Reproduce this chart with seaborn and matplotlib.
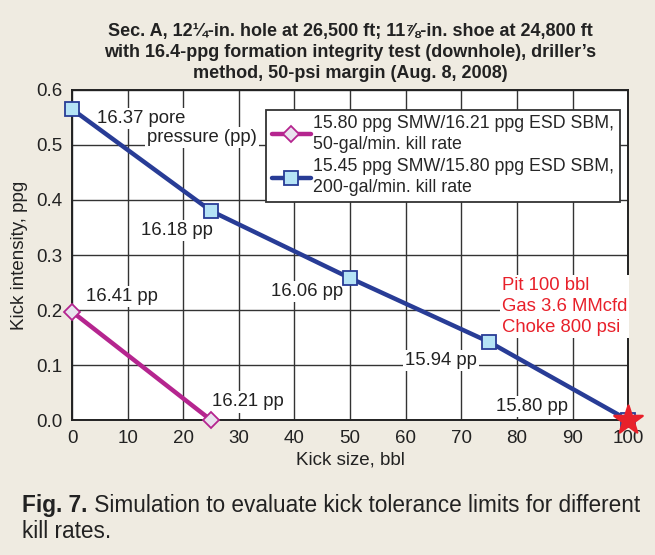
import numpy as np
import pandas as pd
import matplotlib
matplotlib.use("Agg")
import matplotlib.pyplot as plt
import seaborn as sns

# data
kick_size_200 = [0, 25, 50, 75, 100]
kick_int_200 = [0.565, 0.380, 0.258, 0.142, 0.0]
kick_size_50 = [0, 25]
kick_int_50 = [0.197, 0.0]
x_ticks = [0, 10, 20, 30, 40, 50, 60, 70, 80, 90, 100]
y_ticks = [0.0, 0.1, 0.2, 0.3, 0.4, 0.5, 0.6]
label_50 = "15.80 ppg SMW/16.21 ppg ESD SBM,\n50-gal/min. kill rate"
label_200 = "15.45 ppg SMW/15.80 ppg ESD SBM,\n200-gal/min. kill rate"

sns.set_style("white")
plt.rcParams["font.family"] = ["Liberation Sans", "DejaVu Sans"]

BG = "#efebe1"
BLUE = "#283c96"
MAG = "#b5258f"
TXT = "#222222"

fig = plt.figure(figsize=(6.55, 5.55), dpi=100, facecolor=BG)
ax = fig.add_axes([0.110, 0.243, 0.849, 0.595])
ax.set_facecolor("white")

df50 = pd.DataFrame({"x": kick_size_50, "y": kick_int_50})
df200 = pd.DataFrame({"x": kick_size_200, "y": kick_int_200})

sns.lineplot(data=df50, x="x", y="y", ax=ax, color=MAG, linewidth=3.2,
             marker="D", markersize=8, markerfacecolor="#e9e3ee",
             markeredgecolor=MAG, markeredgewidth=1.3, label=label_50,
             zorder=5, clip_on=False)
sns.lineplot(data=df200, x="x", y="y", ax=ax, color=BLUE, linewidth=3.2,
             marker="s", markersize=10, markerfacecolor="#b5e3f6",
             markeredgecolor=BLUE, markeredgewidth=1.3, label=label_200,
             zorder=5, clip_on=False)
# last point of the 200 gal/min line is the red star, not a square
sns.scatterplot(x=[kick_size_200[-1]], y=[kick_int_200[-1]], ax=ax, marker="*",
                s=460, color="#e8202a", edgecolor="#e8202a", zorder=7,
                legend=False, clip_on=False)

ax.set_xlim(0, 100)
ax.set_ylim(0, 0.6)
ax.set_xticks(x_ticks)
ax.set_yticks(y_ticks)
ax.set_yticklabels([f"{v:.1f}" for v in y_ticks])
ax.grid(True, color="#333333", linewidth=1.0)
ax.set_axisbelow(True)
for s in ax.spines.values():
    s.set_color(TXT)
    s.set_linewidth(1.4)
ax.tick_params(labelsize=13.5, colors=TXT, length=0, pad=7)
ax.set_xlabel("Kick size, bbl", fontsize=13.5, color=TXT, labelpad=3)
ax.set_ylabel("Kick intensity, ppg", fontsize=13.5, color=TXT, labelpad=6)

leg = ax.legend(loc="upper right", bbox_to_anchor=(0.985, 0.94), fontsize=12.8,
                frameon=True, fancybox=False, edgecolor="#333333",
                handlelength=2.2, handletextpad=0.15, borderpad=0.3,
                labelspacing=0.3, borderaxespad=0.0)
leg.get_frame().set_linewidth(1.3)
leg.get_frame().set_alpha(1)
for t in leg.get_texts():
    t.set_linespacing(1.3)

box = dict(facecolor="white", edgecolor="none", pad=1.5)
tk = dict(fontsize=13.3, color=TXT, bbox=box, zorder=4)
ax.text(4.5, 0.548, "16.37 pore", ha="left", va="center", **tk)
ax.text(13.5, 0.513, "pressure (pp)", ha="left", va="center", **tk)
ax.text(18.8, 0.345, "16.18 pp", ha="center", va="center", **tk)
ax.text(9.0, 0.224, "16.41 pp", ha="center", va="center", **tk)
ax.text(31.6, 0.033, "16.21 pp", ha="center", va="center", **tk)
ax.text(42.2, 0.233, "16.06 pp", ha="center", va="center", **tk)
ax.text(66.4, 0.109, "15.94 pp", ha="center", va="center", **tk)
ax.text(82.7, 0.024, "15.80 pp", ha="center", va="center", **tk)
ax.text(77.3, 0.207, "Pit 100 bbl\nGas 3.6 MMcfd\nChoke 800 psi", ha="left",
        va="center", fontsize=13.3, color="#e8202a", linespacing=1.3,
        bbox=box, zorder=4)

fig.text(0.535, 0.906,
         "Sec. A, 12\u00bc-in. hole at 26,500 ft; 11\u215e-in. shoe at 24,800 ft\n"
         "with 16.4-ppg formation integrity test (downhole), driller\u2019s\n"
         "method, 50-psi margin (Aug. 8, 2008)",
         ha="center", va="center", fontsize=13, fontweight="bold",
         color=TXT, linespacing=1.3)

cap = fig.text(0.034, 0.078, "Fig. 7.", fontsize=16.3, fontweight="bold",
               color=TXT, ha="left", va="baseline")
ax.annotate(" Simulation to evaluate kick tolerance limits for different",
            xy=(1, 0), xycoords=cap, fontsize=16.3, color=TXT,
            ha="left", va="bottom", annotation_clip=False)
fig.text(0.034, 0.030, "kill rates.", fontsize=16.3, color=TXT,
         ha="left", va="baseline")

fig.savefig("out.png", dpi=100, facecolor=BG)
